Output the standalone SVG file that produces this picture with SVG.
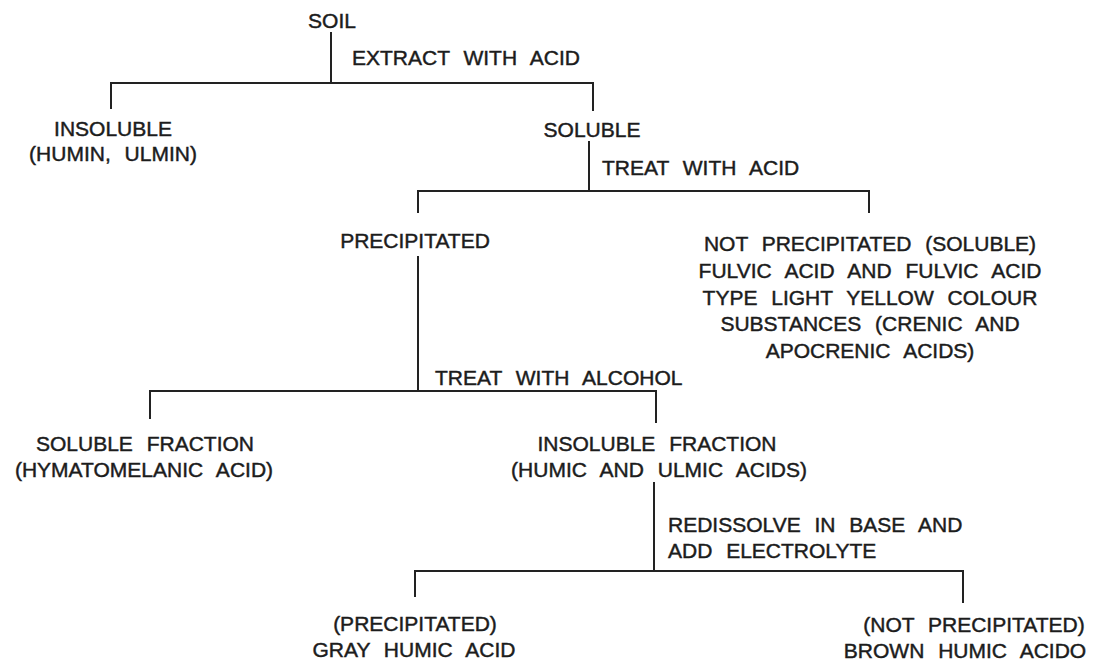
<svg xmlns="http://www.w3.org/2000/svg" width="1094" height="664" viewBox="0 0 1094 664">
<style>
  text { font-family: "Liberation Sans", Arial, Helvetica, sans-serif; font-size: 21px; fill: #1c1c1c; stroke: #1c1c1c; stroke-width: 0.45; word-spacing: 8px; }
  .m { text-anchor: middle; }
  .s { text-anchor: start; }
  .ln { stroke: #222; stroke-width: 2; fill: none; stroke-linecap: square; }
</style>
<rect x="0" y="0" width="1094" height="664" fill="#ffffff"/>
<g id="connectors">
  <path class="ln" d="M331 33 V83 M111 108 V83 H593 V110"/>
  <path class="ln" d="M589 142 V191 M418 212 V191 H869 V212"/>
  <path class="ln" d="M418 257 V391 M150 418 V391 H656 V422"/>
  <path class="ln" d="M654 483 V571 M415 596 V571 H963 V602"/>
</g>
<g id="soil"><text class="m" x="332" y="28">SOIL</text></g>
<g id="label-extract"><text class="s" x="352" y="65">EXTRACT WITH ACID</text></g>
<g id="insoluble">
  <text class="m" x="113" y="136">INSOLUBLE</text>
  <text class="m" x="113" y="161">(HUMIN, ULMIN)</text>
</g>
<g id="soluble"><text class="m" x="592" y="137">SOLUBLE</text></g>
<g id="label-treat-acid"><text class="s" x="602" y="175">TREAT WITH ACID</text></g>
<g id="precipitated"><text class="m" x="415" y="248">PRECIPITATED</text></g>
<g id="not-precipitated">
  <text class="m" x="870" y="251">NOT PRECIPITATED (SOLUBLE)</text>
  <text class="m" x="870" y="278">FULVIC ACID AND FULVIC ACID</text>
  <text class="m" x="870" y="305">TYPE LIGHT YELLOW COLOUR</text>
  <text class="m" x="870" y="331">SUBSTANCES (CRENIC AND</text>
  <text class="m" x="870" y="358">APOCRENIC ACIDS)</text>
</g>
<g id="label-treat-alcohol"><text class="s" x="435" y="385">TREAT WITH ALCOHOL</text></g>
<g id="soluble-fraction">
  <text class="m" x="145" y="451">SOLUBLE FRACTION</text>
  <text class="m" x="144" y="477">(HYMATOMELANIC ACID)</text>
</g>
<g id="insoluble-fraction">
  <text class="m" x="657" y="451">INSOLUBLE FRACTION</text>
  <text class="m" x="659" y="477">(HUMIC AND ULMIC ACIDS)</text>
</g>
<g id="label-redissolve">
  <text class="s" x="668" y="532">REDISSOLVE IN BASE AND</text>
  <text class="s" x="668" y="558">ADD ELECTROLYTE</text>
</g>
<g id="gray-humic">
  <text class="m" x="415" y="631">(PRECIPITATED)</text>
  <text class="m" x="414" y="657">GRAY HUMIC ACID</text>
</g>
<g id="brown-humic">
  <text class="m" x="974" y="632">(NOT PRECIPITATED)</text>
  <text class="m" x="965" y="658">BROWN HUMIC ACIDO</text>
</g>
</svg>
